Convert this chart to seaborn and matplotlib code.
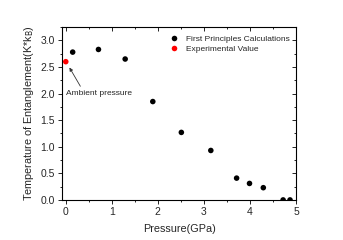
import matplotlib
matplotlib.use("Agg")
import matplotlib.pyplot as plt
import seaborn as sns
import pandas as pd
from matplotlib.ticker import MultipleLocator

sns.set_style("white")
plt.rcParams['font.family'] = ['Liberation Sans', 'DejaVu Sans']

calc_pressure = [0.15, 0.71, 1.29, 1.89, 2.51, 3.15, 3.71, 3.99, 4.29, 4.72, 4.87]
calc_temp = [2.78, 2.83, 2.65, 1.85, 1.27, 0.93, 0.41, 0.31, 0.23, 0.0, 0.0]
exp_pressure = [0.0]
exp_temp = [2.60]
series = ["First Principles Calculations", "Experimental Value"]

df = pd.DataFrame({
    "Pressure": calc_pressure + exp_pressure,
    "Temp": calc_temp + exp_temp,
    "Source": [series[0]] * len(calc_pressure) + [series[1]] * len(exp_pressure),
})

fig = plt.figure(figsize=(3.43, 2.40), dpi=100)
ax = fig.add_axes([0.181, 0.167, 0.682, 0.72])
sns.scatterplot(data=df, x="Pressure", y="Temp", hue="Source",
                palette={series[0]: "black", series[1]: "red"},
                s=16, edgecolor="none", ax=ax, zorder=3)

ax.set_xlim(-0.08, 5.0)
ax.set_ylim(0, 3.25)
ax.xaxis.set_minor_locator(MultipleLocator(0.5))
ax.yaxis.set_minor_locator(MultipleLocator(0.25))
ax.set_xticks([0, 1, 2, 3, 4, 5])
ax.set_xticklabels(["0", "1", "2", "3", "4", "5"])
ax.set_yticks([0, 0.5, 1.0, 1.5, 2.0, 2.5, 3.0])
ax.set_yticklabels(["0.0", "0.5", "1.0", "1.5", "2.0", "2.5", "3.0"])

for s in ax.spines.values():
    s.set_color("black")
    s.set_linewidth(0.8)

ax.tick_params(axis="both", which="both", direction="out", color="black",
               labelsize=7.5, width=0.6, pad=2)
ax.tick_params(which="major", length=3)
ax.tick_params(which="minor", length=1.5)
ax.tick_params(which="both", bottom=True, left=True)

axt = ax.secondary_xaxis("top")
axt.xaxis.set_major_locator(MultipleLocator(1))
axt.xaxis.set_minor_locator(MultipleLocator(0.5))
axt.tick_params(which="both", direction="in", labeltop=False, color="black", width=0.6)
axt.tick_params(which="major", length=3)
axt.tick_params(which="minor", length=1.5)
axr = ax.secondary_yaxis("right")
axr.yaxis.set_major_locator(MultipleLocator(0.5))
axr.yaxis.set_minor_locator(MultipleLocator(0.25))
axr.tick_params(which="both", direction="in", labelright=False, color="black", width=0.6)
axr.tick_params(which="major", length=3)
axr.tick_params(which="minor", length=1.5)
for a in (axt, axr):
    for s in a.spines.values():
        s.set_visible(False)

ax.set_xlabel("Pressure(GPa)", fontsize=7.8, labelpad=5)
ax.set_ylabel("Temperature of Entanglement(K*k$_\\mathrm{B}$)", fontsize=7.8, labelpad=3)

ax.annotate("Ambient pressure", xy=(0.08, 2.49), xytext=(0.0, 2.01),
            fontsize=6, va="center", ha="left",
            arrowprops=dict(arrowstyle="-|>", color="#333333", lw=0.6,
                            mutation_scale=5, shrinkA=0, shrinkB=0,
                            relpos=(0.25, 1.0)))

leg = ax.legend(loc="upper right", bbox_to_anchor=(1.0, 0.99), frameon=False,
                fontsize=6, handletextpad=0.5, labelspacing=0.35,
                borderaxespad=0.3, markerscale=1.0, title=None)

fig.savefig("out.png", dpi=100)
